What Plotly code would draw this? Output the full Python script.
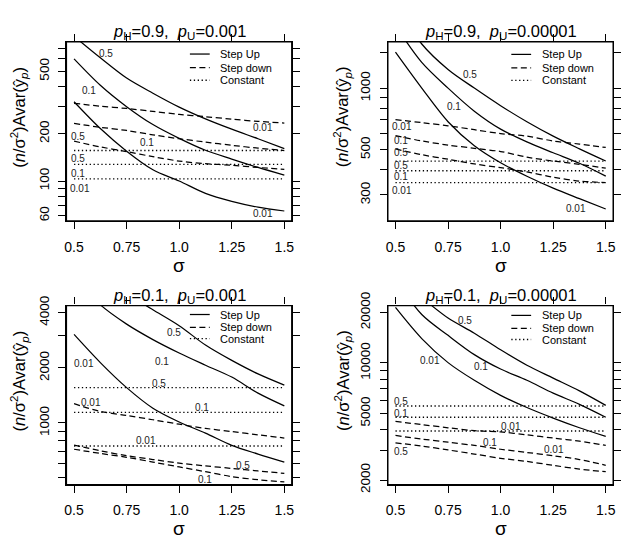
import plotly.graph_objects as go
import math

# ---------------- data ----------------
sigma = [0.5, 0.625, 0.75, 0.875, 1.0, 1.125, 1.25, 1.375, 1.5]
x_ticks = [0.5, 0.75, 1.0, 1.25, 1.5]
x_tick_text = ["0.5", "0.75", "1.0", "1.25", "1.5"]

# Panel 1: pH=0.9, pU=0.001
p1_up_05 = [837, 610, 453, 363, 296, 249, 214, 186, 161]
p1_up_01 = [601, 408, 298, 229, 187, 157, 138, 122, 109]
p1_up_001 = [320, 216, 155, 118, 100, 83.4, 74.2, 68.1, 64.4]
p1_down_001 = [313, 300, 290, 278, 266, 257, 248, 240, 234]
p1_down_01 = [233, 220, 210, 197, 186, 177, 169, 162, 156.5]
p1_down_05 = [179.5, 165, 154, 143, 134, 129, 126, 122, 118.8]
p1_const_05, p1_const_01, p1_const_001 = 156.5, 127.6, 103.2
p1_yticks = [60, 70, 80, 90, 100, 200, 300, 400, 500, 600, 700]
p1_ylabels = ["60", "", "", "", "100", "200", "", "", "500", "", ""]

# Panel 2: pH=0.9, pU=0.00001
p2_up_05 = [2600, 1650, 1238, 1003, 822, 686, 583, 505, 440]
p2_up_01 = [2032, 1341, 1003, 773, 631, 546, 483, 429, 371]
p2_up_001 = [1505, 1003, 686, 523, 431.5, 370.5, 324, 287.6, 256]
p2_down_001 = [703, 679, 655, 627, 600, 583, 552, 533, 513]
p2_down_01 = [587, 552, 527, 508, 490, 460, 440, 424, 406]
p2_down_05 = [504.5, 472.6, 449, 425.6, 408.5, 389, 366.6, 351, 345]
p2_const_05, p2_const_01, p2_const_001 = 439.5, 394, 345
p2_yticks = [300, 400, 500, 600, 700, 800, 900, 1000, 1500]
p2_ylabels = ["300", "", "500", "", "", "", "", "1000", ""]

# Panel 3: pH=0.1, pU=0.001
p3_up_05 = [7480, 6110, 5093, 4158, 3401, 2667, 2198, 1854, 1610]
p3_up_01 = [6237, 4422, 3471, 2857, 2413, 2069, 1782, 1456, 1240]
p3_up_001 = [3048, 2138, 1560, 1204, 1012, 879, 754, 676, 611]
p3_down_001 = [1274, 1157, 1098, 1041, 984, 934, 897, 861, 827]
p3_down_01 = [718, 681, 649, 611, 575, 541, 509, 489, 476]
p3_down_05 = [757, 704, 662, 631, 603, 582, 564, 546, 530]
p3_const_05, p3_const_01, p3_const_001 = 1560, 1142, 748
p3_yticks = [500, 600, 700, 800, 900, 1000, 2000, 3000, 4000]
p3_ylabels = ["", "", "", "", "", "1000", "2000", "", "4000"]

# Panel 4: pH=0.1, pU=0.00001
p4_up_05 = [32000, 24500, 18544, 15069, 11984, 9696, 8128, 6815, 5585]
p4_up_01 = [31600, 19472, 14620, 11220, 9200, 7882, 6607, 5662, 4742]
p4_up_001 = [21460, 13990, 10050, 7882, 6410, 5419, 4686, 4103, 3641]
p4_down_001 = [4481, 4287, 4103, 3945, 3874, 3724, 3562, 3410, 3220]
p4_down_01 = [3690, 3515, 3365, 3220, 3054, 2921, 2795, 2651, 2449]
p4_down_05 = [3334, 3190, 3025, 2859, 2698, 2582, 2449, 2323, 2242]
p4_const_05, p4_const_01, p4_const_001 = 5540, 4742, 3926
p4_yticks = [2000, 3000, 4000, 5000, 6000, 7000, 8000, 9000, 10000, 20000]
p4_ylabels = ["2000", "", "", "5000", "", "", "", "", "10000", "20000"]

titles = ["<i>p</i><sub>H</sub>=0.9,\u00a0\u00a0<i>p</i><sub>U</sub>=0.001",
          "<i>p</i><sub>H</sub>=0.9,\u00a0\u00a0<i>p</i><sub>U</sub>=0.00001",
          "<i>p</i><sub>H</sub>=0.1,\u00a0\u00a0<i>p</i><sub>U</sub>=0.001",
          "<i>p</i><sub>H</sub>=0.1,\u00a0\u00a0<i>p</i><sub>U</sub>=0.00001"]

# curve labels: (text, sigma, value)
p1_labels = [("0.5", 0.652, 646), ("0.1", 0.57, 378), ("0.01", 1.40, 220),
             ("0.5", 0.52, 192), ("0.1", 0.845, 175), ("0.5", 0.52, 139),
             ("0.1", 0.52, 112), ("0.01", 0.53, 89.6), ("0.01", 1.40, 62.2)]
p2_labels = [("0.5", 0.854, 1168), ("0.1", 0.776, 816), ("0.01", 0.531, 650),
             ("0.1", 0.524, 552), ("0.5", 0.524, 483), ("0.5", 0.524, 418),
             ("0.1", 0.524, 370.6), ("0.01", 0.531, 317), ("0.01", 1.358, 258)]
p3_labels = [("0.5", 0.974, 3133), ("0.1", 0.92, 2178), ("0.01", 0.548, 2119),
             ("0.5", 0.904, 1645), ("0.01", 0.582, 1290), ("0.1", 1.108, 1214),
             ("0.01", 0.841, 801), ("0.5", 1.304, 587), ("0.1", 1.124, 493)]
p4_labels = [("0.5", 0.831, 17990), ("0.01", 0.665, 10400), ("0.1", 0.909, 9530),
             ("0.5", 0.524, 5916), ("0.1", 0.524, 5000), ("0.01", 1.051, 4158),
             ("0.1", 0.949, 3334), ("0.01", 1.256, 3055), ("0.5", 0.524, 2958)]

legend_names = ["Step Up", "Step down", "Constant"]

# ---------------- layout geometry ----------------
W, H = 629, 558
FONT = "Liberation Sans, Arial, Helvetica, sans-serif"
DASH = "6px,3.5px"
DOT = "1.3px,2.6px"
LW = 1.25

panels = [
    dict(s="", box=(65, 292, 30, 216), yr=(1.746, 2.887),
         up=[p1_up_05, p1_up_01, p1_up_001], down=[p1_down_001, p1_down_01, p1_down_05],
         const=[p1_const_05, p1_const_01, p1_const_001], yt=p1_yticks, yl=p1_ylabels,
         labels=p1_labels, leg_rows=(0.932, 0.856, 0.786), ytitle_x=17),
    dict(s="2", box=(389, 616, 30, 216), yr=(2.350, 3.228),
         up=[p2_up_05, p2_up_01, p2_up_001], down=[p2_down_001, p2_down_01, p2_down_05],
         const=[p2_const_05, p2_const_01, p2_const_001], yt=p2_yticks, yl=p2_ylabels,
         labels=p2_labels, leg_rows=(0.930, 0.855, 0.785), ytitle_x=343),
    dict(s="3", box=(65, 292, 304, 490), yr=(2.663, 3.642),
         up=[p3_up_05, p3_up_01, p3_up_001], down=[p3_down_001, p3_down_01, p3_down_05],
         const=[p3_const_05, p3_const_01, p3_const_001], yt=p3_yticks, yl=p3_ylabels,
         labels=p3_labels, leg_rows=(0.950, 0.878, 0.815), ytitle_x=17),
    dict(s="4", box=(389, 616, 304, 490), yr=(3.274, 4.343),
         up=[p4_up_05, p4_up_01, p4_up_001], down=[p4_down_001, p4_down_01, p4_down_05],
         const=[p4_const_05, p4_const_01, p4_const_001], yt=p4_yticks, yl=p4_ylabels,
         labels=p4_labels, leg_rows=(0.945, 0.873, 0.810), ytitle_x=343),
]

fig = go.Figure()
annotations = []
shapes = []
layout_axes = {}

for i, p in enumerate(panels):
    s = p["s"]
    xa, ya = "x" + s, "y" + s
    x0, x1, y0, y1 = p["box"]
    line_common = dict(color="black", width=LW)
    for ys in p["up"]:
        fig.add_trace(go.Scatter(x=sigma, y=ys, mode="lines", xaxis=xa, yaxis=ya,
                                 line=dict(dash="solid", shape="spline", smoothing=0.9, **line_common),
                                 showlegend=False, hoverinfo="skip"))
    for ys in p["down"]:
        fig.add_trace(go.Scatter(x=sigma, y=ys, mode="lines", xaxis=xa, yaxis=ya,
                                 line=dict(dash=DASH, shape="spline", smoothing=0.9, **line_common),
                                 showlegend=False, hoverinfo="skip"))
    for c in p["const"]:
        fig.add_trace(go.Scatter(x=[sigma[0], sigma[-1]], y=[c, c], mode="lines",
                                 xaxis=xa, yaxis=ya,
                                 line=dict(dash=DOT, color="black", width=1.4),
                                 showlegend=False, hoverinfo="skip"))

    axis_common = dict(showline=True, mirror="all", linecolor="#000000", linewidth=1.2,
                       ticks="outside", ticklen=7, tickwidth=1.1, tickcolor="black",
                       showgrid=False, zeroline=False)
    layout_axes["xaxis" + s] = dict(domain=[x0 / W, x1 / W], anchor=ya,
                                    range=[0.464, 1.535], tickvals=x_ticks,
                                    ticktext=x_tick_text, ticklabelstandoff=6,
                                    tickfont=dict(family=FONT, size=14, color="black"),
                                    **axis_common)
    layout_axes["yaxis" + s] = dict(domain=[1 - y1 / H, 1 - y0 / H], anchor=xa,
                                    type="log", range=list(p["yr"]),
                                    tickvals=p["yt"], ticktext=p["yl"], tickangle=-90,
                                    ticklabelstandoff=4,
                                    tickfont=dict(family=FONT, size=13.5, color="black"),
                                    **axis_common)
    # plot box in paper coordinates (not clipped)
    shapes.append(dict(type="rect", xref="paper", yref="paper",
                       x0=x0 / W, x1=x1 / W, y0=1 - y1 / H, y1=1 - y0 / H,
                       line=dict(color="black", width=1.2),
                       fillcolor="rgba(0,0,0,0)", layer="above"))

    # curve labels
    for txt, sx, val in p["labels"]:
        annotations.append(dict(x=sx, y=math.log10(val), xref=xa, yref=ya, text=txt,
                                showarrow=False, xanchor="center", yanchor="middle",
                                font=dict(family=FONT, size=10, color="#222")))
    # panel title
    annotations.append(dict(x=(x0 + x1) / 2 / W, y=1 - (y0 - 10) / H, xref="paper", yref="paper",
                            text=titles[i], showarrow=False, xanchor="center", yanchor="middle",
                            font=dict(family=FONT, size=16.5, color="black")))
    # x axis title
    annotations.append(dict(x=(x0 + x1) / 2 / W, y=1 - (y1 + 46) / H, xref="paper", yref="paper",
                            text="σ", showarrow=False, xanchor="center", yanchor="middle",
                            font=dict(family=FONT, size=19, color="black")))
    # y axis title
    annotations.append(dict(x=p["ytitle_x"] / W, y=1 - ((y0 + y1) / 2 - 15) / H, xref="paper",
                            yref="paper", textangle=-90, showarrow=False,
                            xanchor="center", yanchor="middle",
                            text="(<i>n</i>/σ<sup>2</sup>)Avar(ŷ<sub><i>p</i></sub>)",
                            font=dict(family=FONT, size=16.5, color="black")))
    # legend (line samples + text)
    dashes = ["solid", "dash", "dot"]
    for r, (name, dsh) in enumerate(zip(legend_names, dashes)):
        yy = p["leg_rows"][r]
        dpat = {"solid": "solid", "dash": DASH, "dot": DOT}[dsh]
        shapes.append(dict(type="line", xref=xa + " domain", yref=ya + " domain",
                           x0=0.548, x1=0.636, y0=yy, y1=yy,
                           line=dict(color="black", width=LW if dsh != "dot" else 1.4, dash=dpat)))
        annotations.append(dict(x=0.675, y=yy, xref=xa + " domain", yref=ya + " domain",
                                text=name, showarrow=False, xanchor="left", yanchor="middle",
                                font=dict(family=FONT, size=11, color="black")))

fig.update_layout(width=W, height=H, margin=dict(l=0, r=0, t=0, b=0),
                  paper_bgcolor="white", plot_bgcolor="white", showlegend=False,
                  annotations=annotations, shapes=shapes, **layout_axes)

fig.write_html("out.html")
